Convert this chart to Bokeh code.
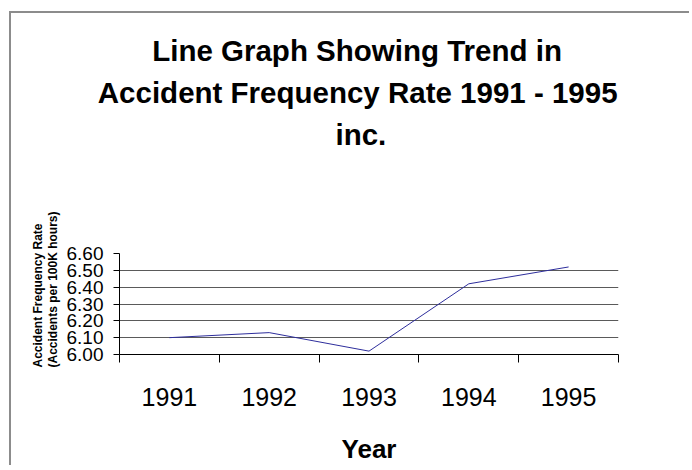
from bokeh.plotting import figure
from bokeh.models import Range1d, FixedTicker, PrintfTickFormatter, Grid, Title
from bokeh.embed import file_html
from bokeh.resources import INLINE

# ---- data ----
years = ["1991", "1992", "1993", "1994", "1995"]
rates = [6.10, 6.13, 6.02, 6.42, 6.52]
y_ticks = [6.00, 6.10, 6.20, 6.30, 6.40, 6.50, 6.60]
grid_dark = [6.10, 6.20, 6.30, 6.40, 6.50]
grid_light = [6.60]
title_lines = ["Line Graph Showing Trend in",
               "Accident Frequency Rate 1991 - 1995",
               "inc."]
y_title_lines = ["Accident Frequency Rate", "(Accidents per 100K hours)"]
x_title = "Year"

FONT = "Liberation Sans"

xpos = [i + 0.5 for i in range(len(years))]
bounds = list(range(len(years) + 1))

p = figure(width=680, height=454, output_backend="svg", toolbar_location=None,
           title=None,
           x_range=Range1d(0, len(years)), y_range=Range1d(y_ticks[0], y_ticks[-1]),
           min_border_left=108, min_border_right=73, min_border_top=0,
           min_border_bottom=113, outline_line_color=None,
           background_fill_color="white", border_fill_color="white")
p.styles = {"margin-left": "9px", "margin-top": "11px",
            "border-left": "2px solid #8c8c8c", "border-top": "2px solid #8c8c8c"}

p.line(xpos, rates, line_color="#2e2e9c", line_width=1)

# x axis: labels at category centers, ticks at category boundaries
xa = p.xaxis[0]
xa.ticker = FixedTicker(ticks=xpos, minor_ticks=bounds)
xa.major_label_overrides = {x: y for x, y in zip(xpos, years)}
xa.major_tick_line_color = None
xa.major_tick_out = 0
xa.major_tick_in = 0
xa.minor_tick_out = 8
xa.minor_tick_in = 0
xa.minor_tick_line_color = "black"
xa.axis_line_color = "black"
xa.major_label_text_font = FONT
xa.major_label_text_font_size = "25px"
xa.major_label_text_color = "black"
xa.major_label_standoff = 25
xa.axis_label = x_title
xa.axis_label_text_font = FONT
xa.axis_label_text_font_size = "26px"
xa.axis_label_text_font_style = "bold"
xa.axis_label_text_color = "black"
xa.axis_label_standoff = 25

ya = p.yaxis[0]
ya.ticker = FixedTicker(ticks=y_ticks)
ya.formatter = PrintfTickFormatter(format="%.2f")
ya.major_tick_out = 6
ya.major_tick_in = 0
ya.minor_tick_line_color = None
ya.major_tick_line_color = "black"
ya.axis_line_color = "black"
ya.major_label_text_font = FONT
ya.major_label_text_font_size = "19px"
ya.major_label_text_color = "black"
ya.major_label_standoff = 10

p.xgrid.visible = False
p.ygrid.ticker = FixedTicker(ticks=grid_dark)
p.ygrid.grid_line_color = "#5a5a5a"
p.ygrid.grid_line_width = 1
p.add_layout(Grid(dimension=1, ticker=FixedTicker(ticks=grid_light),
                  grid_line_color="#dcdcdc", grid_line_width=1))

# y axis title: two rotated lines on the left
p.add_layout(Title(text="\n".join(y_title_lines), align="left", offset=-13,
                   vertical_align="bottom", standoff=7,
                   text_font=FONT, text_font_size="12px", text_font_style="bold",
                   text_line_height=1.1, text_color="black"), "left")

# chart title: spacer below, three centred lines, spacer above
title_offsets = [32.7, -21.7, 216]
p.add_layout(Title(text=" ", text_font_size="1px", standoff=93.6), "above")
for txt, off in reversed(list(zip(title_lines, title_offsets))):
    p.add_layout(Title(text=txt, align="left", offset=off, vertical_align="top",
                       standoff=6.5, text_font=FONT, text_font_size="29.5px",
                       text_font_style="bold", text_color="black"), "above")
p.add_layout(Title(text=" ", text_font_size="1px", standoff=13.7), "above")

open("out.html", "w").write(file_html(p, INLINE))
